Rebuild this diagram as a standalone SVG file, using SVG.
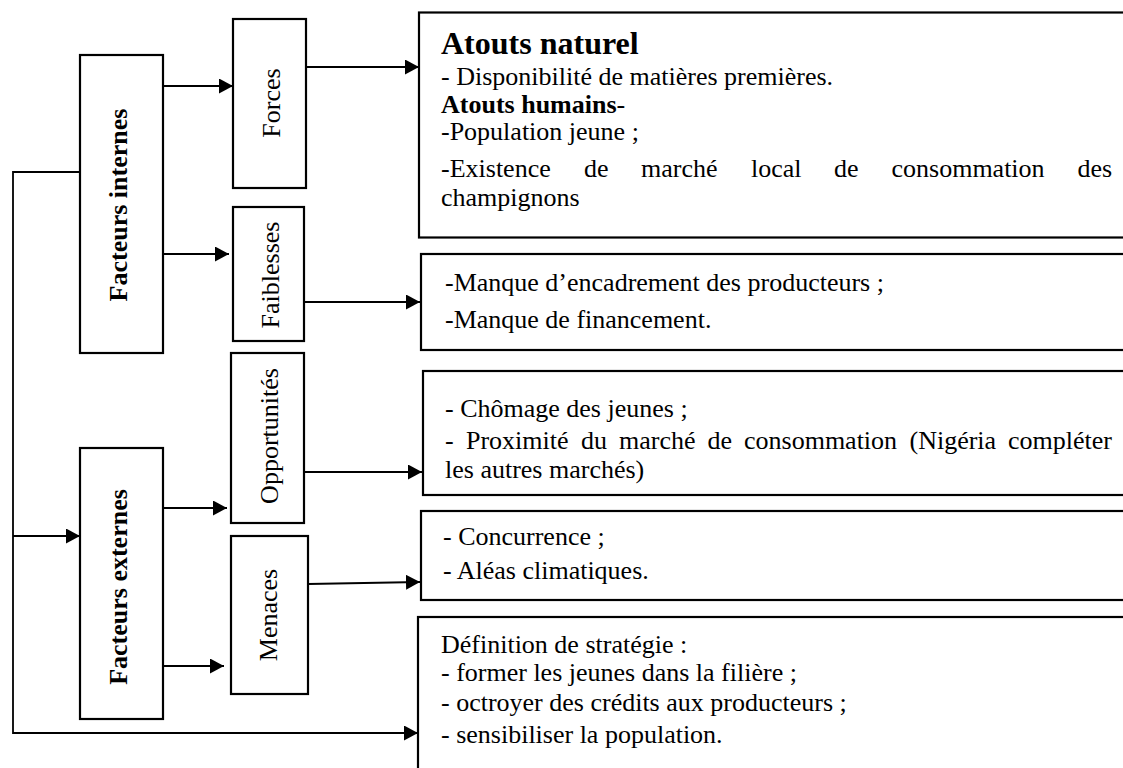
<svg xmlns="http://www.w3.org/2000/svg" width="1123" height="768" viewBox="0 0 1123 768">
<style>
.box{fill:#fff;stroke:#000;stroke-width:2.2}
.c{fill:none;stroke:#000;stroke-width:1.8}
text{font-family:"Liberation Serif","Times New Roman",serif;fill:#000}
.t{font-size:26px}
.b{font-size:26px;font-weight:bold}
.h{font-size:32px;font-weight:bold}
</style>
<defs>
<marker id="ah" markerUnits="userSpaceOnUse" markerWidth="14" markerHeight="15" refX="14" refY="7.5" orient="auto">
<path d="M0,0 L14,7.5 L0,15 z" fill="#000"/>
</marker>
</defs>
<rect width="1123" height="768" fill="#fff"/>

<g id="connectors">
<polyline class="c" points="80,172 13,172 13,733 418,733" marker-end="url(#ah)"/>
<line class="c" x1="13" y1="536" x2="80" y2="536" marker-end="url(#ah)"/>
<line class="c" x1="163" y1="86" x2="233" y2="86" marker-end="url(#ah)"/>
<line class="c" x1="163" y1="254" x2="229" y2="254" marker-end="url(#ah)"/>
<line class="c" x1="306" y1="67" x2="419" y2="67" marker-end="url(#ah)"/>
<line class="c" x1="304" y1="302" x2="420" y2="302" marker-end="url(#ah)"/>
<line class="c" x1="163" y1="508" x2="227" y2="508" marker-end="url(#ah)"/>
<line class="c" x1="304" y1="472" x2="422" y2="472" marker-end="url(#ah)"/>
<line class="c" x1="163" y1="666" x2="224" y2="666" marker-end="url(#ah)"/>
<line class="c" x1="308" y1="584" x2="420" y2="582" marker-end="url(#ah)"/>
</g>

<g id="facteurs-internes">
<rect class="box" x="80" y="55" width="83" height="298"/>
<text class="b" text-anchor="middle" transform="translate(118,205) rotate(-90)" x="0" y="9">Facteurs internes</text>
</g>
<g id="facteurs-externes">
<rect class="box" x="80" y="448" width="83" height="271"/>
<text class="b" text-anchor="middle" transform="translate(118,587) rotate(-90)" x="0" y="9">Facteurs externes</text>
</g>
<g id="forces">
<rect class="box" x="233" y="19" width="73" height="169"/>
<text class="t" text-anchor="middle" transform="translate(271,103) rotate(-90)" x="0" y="9">Forces</text>
</g>
<g id="faiblesses">
<rect class="box" x="233" y="207" width="71" height="134"/>
<text class="t" text-anchor="middle" transform="translate(270,275) rotate(-90)" x="0" y="9">Faiblesses</text>
</g>
<g id="opportunites">
<rect class="box" x="231" y="353" width="73" height="170"/>
<text class="t" text-anchor="middle" transform="translate(269,436) rotate(-90)" x="0" y="9">Opportunités</text>
</g>
<g id="menaces">
<rect class="box" x="231" y="536" width="77" height="158"/>
<text class="t" text-anchor="middle" transform="translate(268,615) rotate(-90)" x="0" y="9">Menaces</text>
</g>

<g id="atouts">
<rect class="box" x="419" y="12.5" width="720" height="225"/>
<text class="h" x="441" y="54">Atouts naturel</text>
<text class="t" x="441" y="85">- Disponibilité de matières premières.</text>
<text x="441" y="113"><tspan class="b">Atouts humains</tspan><tspan class="t">-</tspan></text>
<text class="t" x="441" y="140">-Population jeune ;</text>
<text class="t" y="177"><tspan x="441">-Existence</tspan><tspan x="584">de</tspan><tspan x="641">marché</tspan><tspan x="751">local</tspan><tspan x="834">de</tspan><tspan x="891.5">consommation</tspan><tspan x="1077.5">des</tspan></text>
<text class="t" x="441" y="206">champignons</text>
</g>
<g id="faiblesses-detail">
<rect class="box" x="421" y="254" width="720" height="96"/>
<text class="t" x="445" y="291">-Manque d’encadrement des producteurs ;</text>
<text class="t" x="445" y="328">-Manque de financement.</text>
</g>
<g id="opportunites-detail">
<rect class="box" x="423" y="371" width="720" height="124"/>
<text class="t" x="445" y="417">- Chômage des jeunes ;</text>
<text class="t" y="449"><tspan x="445">-</tspan><tspan x="466">Proximité</tspan><tspan x="581">du</tspan><tspan x="619">marché</tspan><tspan x="707.5">de</tspan><tspan x="744">consommation</tspan><tspan x="909.5">(Nigéria</tspan><tspan x="1008">compléter</tspan></text>
<text class="t" x="445" y="478">les autres marchés)</text>
</g>
<g id="menaces-detail">
<rect class="box" x="421" y="511" width="720" height="89"/>
<text class="t" x="443" y="545">- Concurrence ;</text>
<text class="t" x="443" y="579">- Aléas climatiques.</text>
</g>
<g id="strategie">
<rect class="box" x="418" y="617" width="720" height="200"/>
<text class="t" x="441" y="653">Définition de stratégie :</text>
<text class="t" x="441" y="681">- former les jeunes dans la filière ;</text>
<text class="t" x="441" y="711">- octroyer des crédits aux producteurs ;</text>
<text class="t" x="441" y="743">- sensibiliser la population.</text>
</g>
</svg>
